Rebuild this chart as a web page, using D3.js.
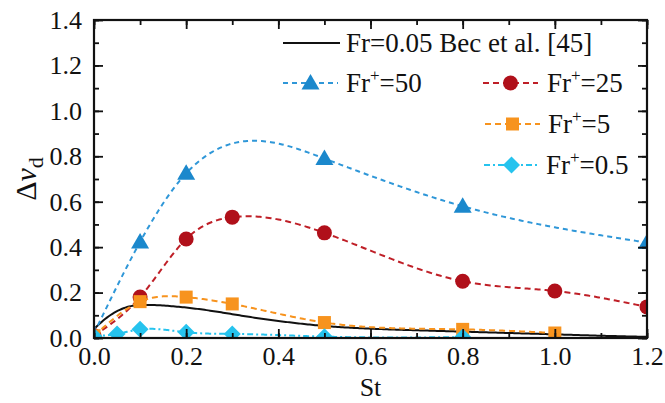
<!DOCTYPE html>
<html><head><meta charset="utf-8">
<script src="https://cdn.jsdelivr.net/npm/d3@7"></script>
<style>
html,body{margin:0;padding:0;background:#fff;}
text{font-family:"Liberation Serif","Times New Roman",serif;fill:#111;}
</style></head>
<body><svg id="c" width="665" height="403"></svg>
<script>
// ---- data ----
const becSt  = [0, 0.025, 0.05, 0.075, 0.1, 0.15, 0.2, 0.25, 0.3, 0.35, 0.4, 0.5, 0.6, 0.7, 0.8, 0.9, 1.0, 1.1, 1.2];
const becVal = [0.04, 0.085, 0.118, 0.138, 0.145, 0.143, 0.134, 0.121, 0.105, 0.089, 0.075, 0.053, 0.041, 0.034, 0.028, 0.022, 0.016, 0.01, 0.005];

const fr50St  = [0, 0.1, 0.2, 0.5, 0.8, 1.2];
const fr50Val = [0.02, 0.423, 0.725, 0.79, 0.58, 0.42];

const fr25St  = [0, 0.1, 0.2, 0.3, 0.5, 0.8, 1.0, 1.2];
const fr25Val = [0.01, 0.18, 0.436, 0.532, 0.463, 0.25, 0.207, 0.137];

const fr5St  = [0, 0.1, 0.2, 0.3, 0.5, 0.8, 1.0];
const fr5Val = [0.01, 0.16, 0.18, 0.15, 0.068, 0.038, 0.022];

const fr05St  = [0, 0.05, 0.1, 0.2, 0.3, 0.5, 0.8];
const fr05Val = [0.008, 0.018, 0.038, 0.025, 0.018, 0.006, 0.004];

const xTicks = [0, 0.2, 0.4, 0.6, 0.8, 1.0, 1.2];
const yTicks = [0, 0.2, 0.4, 0.6, 0.8, 1.0, 1.2, 1.4];

// ---- layout ----
const svg = d3.select("#c");
const FONT = "'Liberation Serif','Times New Roman',serif";
const L = 94, R = 647, T = 20, B = 338;
const x = d3.scaleLinear().domain([0, 1.2]).range([L, R]);
const y = d3.scaleLinear().domain([0, 1.4]).range([B, T]);

svg.append("defs").append("clipPath").attr("id","clip")
  .append("rect").attr("x",L).attr("y",T).attr("width",R-L).attr("height",B-T);

const plot = svg.append("g").attr("clip-path","url(#clip)");

function zip(a,b){return a.map((v,i)=>[v,b[i]]);}

// natural cubic spline in x (how the plotting program connects the points)
function splineFn(xs, ys){
  const n = xs.length, h = [], M = new Array(n).fill(0);
  for(let i=0;i<n-1;i++) h.push(xs[i+1]-xs[i]);
  if(n>2){
    const a=[],b=[],c=[],r=[];
    for(let i=1;i<n-1;i++){
      a.push(h[i-1]); b.push(2*(h[i-1]+h[i])); c.push(h[i]);
      r.push(6*((ys[i+1]-ys[i])/h[i]-(ys[i]-ys[i-1])/h[i-1]));
    }
    const m=b.length;
    for(let i=1;i<m;i++){const w=a[i]/b[i-1]; b[i]-=w*c[i-1]; r[i]-=w*r[i-1];}
    const sol=new Array(m);
    sol[m-1]=r[m-1]/b[m-1];
    for(let i=m-2;i>=0;i--) sol[i]=(r[i]-c[i]*sol[i+1])/b[i];
    for(let i=0;i<m;i++) M[i+1]=sol[i];
  }
  return function(xv){
    let i=0; while(i<n-2 && xv>xs[i+1]) i++;
    const hi=h[i], A=(xs[i+1]-xv)/hi, Bc=(xv-xs[i])/hi;
    return A*ys[i]+Bc*ys[i+1]+((A*A*A-A)*M[i]+(Bc*Bc*Bc-Bc)*M[i+1])*hi*hi/6;
  };
}
function splinePath(xs, ys){
  const f = splineFn(xs, ys);
  const x0 = xs[0], x1 = xs[xs.length-1];
  const samp = d3.range(0, 301).map(k=>x0+(x1-x0)*k/300);
  return d3.line().x(d=>x(d)).y(d=>y(f(d)))(samp);
}

const series = [
  {st:fr50St, val:fr50Val, color:"#1b88cc", lineColor:"#2f97d8", shape:"tri", dash:"5,4"},
  {st:fr25St, val:fr25Val, color:"#b0101a", lineColor:"#bf1f27", shape:"circ", dash:"6,4"},
  {st:fr5St,  val:fr5Val,  color:"#f7931e", lineColor:"#f7931e", shape:"sq", dash:"6,4"},
  {st:fr05St, val:fr05Val, color:"#26c3ee", lineColor:"#26c3ee", shape:"dia", dash:"6,3,2,3"}
];

// black reference line
plot.append("path").attr("d",splinePath(becSt,becVal))
  .attr("fill","none").attr("stroke","#111").attr("stroke-width",2);

function marker(g, shape, cx, cy, color){
  if(shape==="tri"){
    const s=9;
    g.append("path").attr("d",`M${cx},${cy-s} L${cx+s},${cy+s*0.72} L${cx-s},${cy+s*0.72}Z`).attr("fill",color);
  } else if(shape==="circ"){
    g.append("circle").attr("cx",cx).attr("cy",cy).attr("r",7.5).attr("fill",color);
  } else if(shape==="sq"){
    g.append("rect").attr("x",cx-6.5).attr("y",cy-6.5).attr("width",13).attr("height",13).attr("fill",color);
  } else {
    const s=8.5;
    g.append("path").attr("d",`M${cx},${cy-s} L${cx+s},${cy} L${cx},${cy+s} L${cx-s},${cy}Z`).attr("fill",color);
  }
}

series.forEach(s=>{
  plot.append("path").attr("d",splinePath(s.st, s.val))
    .attr("fill","none").attr("stroke",s.lineColor).attr("stroke-width",2)
    .attr("stroke-dasharray",s.dash);
  zip(s.st, s.val).forEach(p=>marker(plot, s.shape, x(p[0]), y(p[1]), s.color));
});

// ---- axes (ticks inward, all four sides) ----
const minorX = d3.range(0, 1.21, 0.1).map(v=>+v.toFixed(2));
const minorY = d3.range(0, 1.41, 0.1).map(v=>+v.toFixed(2));
const fmt = d3.format(".1f");
const axG = svg.append("g");
function styleAxis(g){
  g.attr("font-family", FONT);
  g.select(".domain").remove();
  g.selectAll("line").attr("stroke","#111").attr("stroke-width",1.8);
  g.selectAll("text").style("font-size","26px").style("font-family",FONT).attr("fill","#111");
}
// bottom
axG.append("g").attr("transform",`translate(0,${B})`)
  .call(d3.axisBottom(x).tickValues(minorX).tickSizeInner(-5).tickSizeOuter(0).tickFormat(""))
  .call(styleAxis);
axG.append("g").attr("transform",`translate(0,${B})`)
  .call(d3.axisBottom(x).tickValues(xTicks).tickSizeInner(-9).tickSizeOuter(0).tickPadding(9).tickFormat(fmt))
  .call(styleAxis);
// top
axG.append("g").attr("transform",`translate(0,${T})`)
  .call(d3.axisTop(x).tickValues(minorX).tickSizeInner(-5).tickSizeOuter(0).tickFormat(""))
  .call(styleAxis);
axG.append("g").attr("transform",`translate(0,${T})`)
  .call(d3.axisTop(x).tickValues(xTicks).tickSizeInner(-9).tickSizeOuter(0).tickFormat(""))
  .call(styleAxis);
// left
axG.append("g").attr("transform",`translate(${L},0)`)
  .call(d3.axisLeft(y).tickValues(minorY).tickSizeInner(-5).tickSizeOuter(0).tickFormat(""))
  .call(styleAxis);
axG.append("g").attr("transform",`translate(${L},0)`)
  .call(d3.axisLeft(y).tickValues(yTicks).tickSizeInner(-9).tickSizeOuter(0).tickPadding(12).tickFormat(fmt))
  .call(styleAxis);
// right
axG.append("g").attr("transform",`translate(${R},0)`)
  .call(d3.axisRight(y).tickValues(minorY).tickSizeInner(-5).tickSizeOuter(0).tickFormat(""))
  .call(styleAxis);
axG.append("g").attr("transform",`translate(${R},0)`)
  .call(d3.axisRight(y).tickValues(yTicks).tickSizeInner(-9).tickSizeOuter(0).tickFormat(""))
  .call(styleAxis);
// frame
svg.append("rect").attr("x",L).attr("y",T).attr("width",R-L).attr("height",B-T)
  .attr("fill","none").attr("stroke","#111").attr("stroke-width",2.2);

// axis titles
svg.append("text").attr("x",(L+R)/2).attr("y",396).attr("text-anchor","middle")
  .style("font-family",FONT).style("font-size","26px").text("St");
const yt = svg.append("text").attr("transform",`translate(36,${(T+B)/2}) rotate(-90)`)
  .attr("text-anchor","middle").style("font-family",FONT).style("font-size","30px");
yt.append("tspan").text("Δ");
yt.append("tspan").style("font-style","italic").text("v");
yt.append("tspan").attr("dy",7).style("font-size","22px").text("d");

// ---- legend ----
const lg = svg.append("g");
function legText(xp, yp, parts){
  const t = lg.append("text").attr("x",xp).attr("y",yp)
    .style("font-family",FONT).style("font-size","27px");
  parts.forEach(p=>{
    const ts = t.append("tspan").text(p.t);
    if(p.sup){ ts.attr("dy",-11).style("font-size","17px"); }
    if(p.back){ ts.attr("dy",11); }
  });
}
lg.append("line").attr("x1",283).attr("x2",340).attr("y1",43).attr("y2",43)
  .attr("stroke","#111").attr("stroke-width",2);
legText(346, 52, [{t:"Fr=0.05 Bec et al. [45]"}]);

const legPos = [
  {x1:283, y:83, tx:346, label:"50"},
  {x1:483, y:83, tx:547, label:"25"},
  {x1:485, y:124, tx:548, label:"5"},
  {x1:484, y:165, tx:546, label:"0.5"}
];
series.forEach((s,i)=>{
  const p = legPos[i];
  lg.append("line").attr("x1",p.x1).attr("x2",p.x1+55).attr("y1",p.y).attr("y2",p.y)
    .attr("stroke",s.lineColor).attr("stroke-width",2).attr("stroke-dasharray",s.dash);
  marker(lg, s.shape, p.x1+27.5, p.y, s.color);
  legText(p.tx, p.y+9, [{t:"Fr"},{t:"+",sup:true},{t:"=" + p.label, back:true}]);
});
</script></body></html>
